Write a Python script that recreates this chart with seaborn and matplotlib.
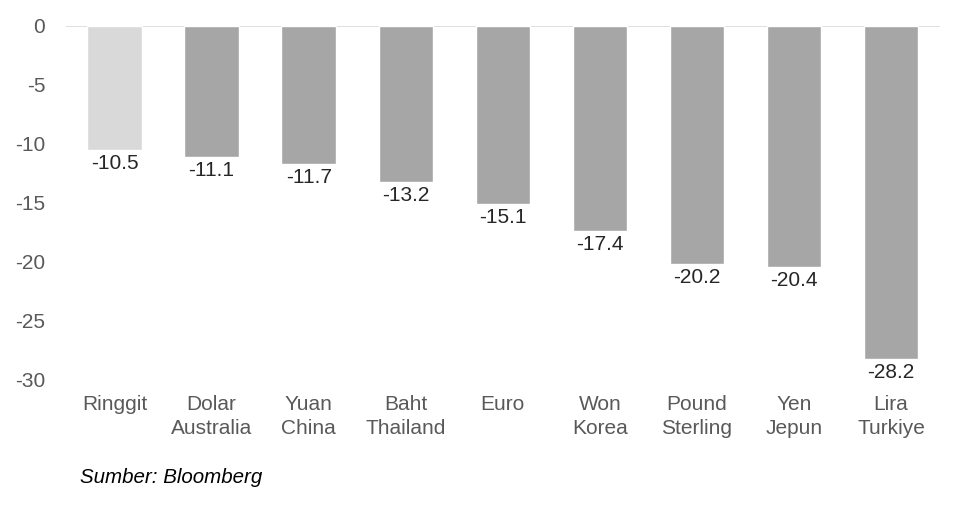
import matplotlib.pyplot as plt
import pandas as pd
import seaborn as sns

# Currency change vs USD (%)
currencies = ["Ringgit", "Dolar\nAustralia", "Yuan\nChina", "Baht\nThailand", "Euro",
              "Won\nKorea", "Pound\nSterling", "Yen\nJepun", "Lira\nTurkiye"]
changes = [-10.5, -11.1, -11.7, -13.2, -15.1, -17.4, -20.2, -20.4, -28.2]
y_ticks = [0, -5, -10, -15, -20, -25, -30]

df = pd.DataFrame({"currency": currencies, "change": changes})

sns.set_theme(style="white")
plt.rcParams["font.family"] = ["Liberation Sans", "DejaVu Sans"]
plt.rcParams["axes.unicode_minus"] = False

fig = plt.figure(figsize=(9.61, 5.19), dpi=100)
ax = fig.add_axes([0.0687, 0.268, 0.909, 0.682])

palette = ["#d9d9d9"] + ["#a6a6a6"] * (len(currencies) - 1)
sns.barplot(data=df, x="currency", y="change", hue="currency", palette=palette,
            legend=False, width=0.56, saturation=1, ax=ax)

# value labels under each bar
for i, v in enumerate(changes):
    ax.annotate(f"{v:.1f}", xy=(i, v), xytext=(0, -3), textcoords="offset points",
                ha="center", va="top", fontsize=15, color="#262626")

ax.axhline(0, color="#d9d9d9", lw=1.2, zorder=0)
ax.set_xlim(-0.5, len(currencies) - 0.5)
ax.set_ylim(-30, 0)
ax.set_yticks(y_ticks)
ax.set_xlabel("")
ax.set_ylabel("")
for s in ax.spines.values():
    s.set_visible(False)
ax.tick_params(axis="y", length=0, pad=15, labelsize=15, labelcolor="#595959")
ax.tick_params(axis="x", length=0, pad=11, labelsize=15, labelcolor="#595959")
for lbl in ax.get_xticklabels():
    lbl.set_linespacing(1.3)

fig.text(0.083, 0.079, "Sumber: Bloomberg", fontsize=14.8, style="italic",
         color="black", ha="left", va="center")

fig.savefig("out.png", dpi=100)
